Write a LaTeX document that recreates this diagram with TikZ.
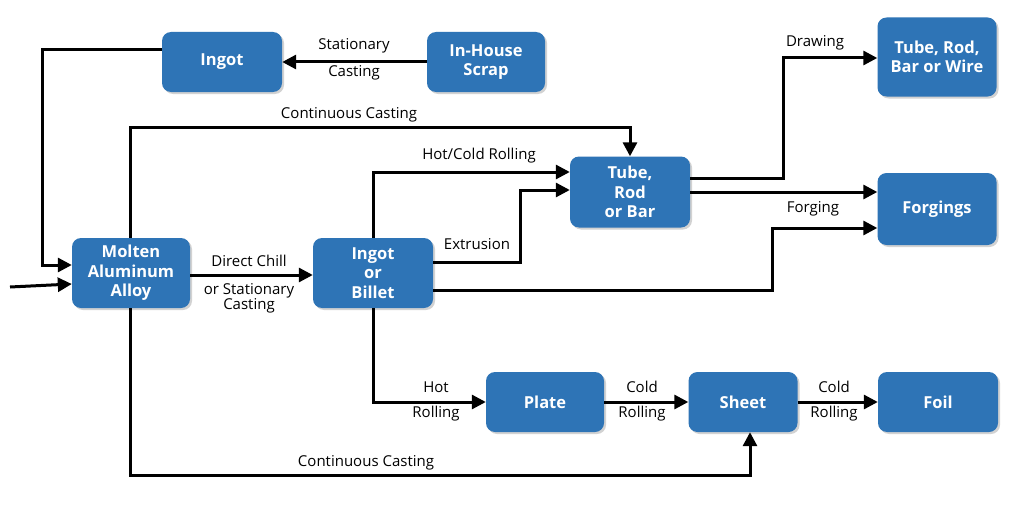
\documentclass[tikz,border=0pt]{standalone}
\usepackage{fontspec}
\setmainfont{Open Sans}
\usetikzlibrary{arrows.meta,shadows}
\definecolor{boxblue}{RGB}{46,116,182}
\begin{document}
\begin{tikzpicture}[x=1pt,y=-1pt,
  box/.style={draw=none,fill=boxblue,rounded corners=9pt,text=white,align=center,
    font=\fontsize{16.5}{19.5}\selectfont\bfseries,inner sep=0pt,
    drop shadow={shadow xshift=2pt,shadow yshift=-2pt,opacity=0.35,fill=gray}},
  conn/.style={line width=3pt,-{Triangle[length=14pt,width=14pt]}},
  lab/.style={font=\fontsize{15}{17}\selectfont,inner sep=0pt,align=center}]
\useasboundingbox (0,0) rectangle (1036,511);
\fill[white] (0,0) rectangle (1036,511);
% boxes
\node[box,minimum width=120pt,minimum height=60pt] (ingot) at (222,62) {Ingot};
\node[box,minimum width=118pt,minimum height=60pt] (scrap) at (486,62) {In-House\\Scrap};
\node[box,minimum width=118pt,minimum height=70pt] (molten) at (131,273) {Molten\\Aluminum\\Alloy};
\node[box,minimum width=120pt,minimum height=70pt] (billet) at (373,273) {Ingot\\or\\Billet};
\node[box,minimum width=120pt,minimum height=71pt] (tube) at (630,192) {Tube,\\Rod\\or Bar};
\node[box,minimum width=119pt,minimum height=79pt] (wire) at (937,57) {Tube, Rod,\\Bar or Wire};
\node[box,minimum width=119pt,minimum height=72pt] (forg) at (937,209) {Forgings};
\node[box,minimum width=118pt,minimum height=60pt] (plate) at (545,402) {Plate};
\node[box,minimum width=109pt,minimum height=60pt] (sheet) at (743,402) {Sheet};
\node[box,minimum width=120pt,minimum height=60pt] (foil) at (938,402) {Foil};
% coordinates
\coordinate (in) at (10,287);
% connectors
\draw[conn] (scrap.west) -- (ingot.east);
\node[lab] at (354,46) {Stationary};
\node[lab] at (354,73) {Casting};
\draw[conn] (ingot.west |- 0,50) -- (42,50) -- (42,265) -- (molten.west |- 0,265);
\draw[conn] (in) -- (molten.west |- 0,284);
\draw[conn] (molten.east |- 0,275) -- (billet.west |- 0,275);
\node[lab] at (249,261) {Direct Chill};
\node[lab] at (249,298) {or Stationary\\[-2pt]Casting};
\draw[conn] (molten.north -| 130,0) -- (130,127) -- (630,127) -- (tube.north);
\node[lab] at (349,115) {Continuous Casting};
\draw[conn] (billet.north) -- (373,172) -- (tube.west |- 0,172);
\node[lab] at (479,156) {Hot/Cold Rolling};
\draw[conn] (billet.east |- 0,262) -- (520,262) -- (520,190) -- (tube.west |- 0,190);
\node[lab] at (477,244) {Extrusion};
\draw[conn] (billet.east |- 0,290) -- (772,290) -- (772,228) -- (forg.west |- 0,228);
\node[lab] at (813,209) {Forging};
\draw[conn] (tube.east |- 0,192) -- (forg.west |- 0,192);
\draw[conn] (tube.east |- 0,178) -- (783,178) -- (783,58) -- (wire.west |- 0,58);
\node[lab] at (815,43) {Drawing};
\draw[conn] (billet.south) -- (373,402) -- (plate.west);
\node[lab] at (436,387) {Hot};
\node[lab] at (436,414) {Rolling};
\draw[conn] (plate.east) -- (sheet.west);
\node[lab] at (642,387) {Cold};
\node[lab] at (642,414) {Rolling};
\draw[conn] (sheet.east) -- (foil.west);
\node[lab] at (834,387) {Cold};
\node[lab] at (834,414) {Rolling};
\draw[conn] (molten.south -| 130,0) -- (130,475) -- (750,475) -- (sheet.south -| 750,0);
\node[lab] at (366,463) {Continuous Casting};
\end{tikzpicture}
\end{document}
